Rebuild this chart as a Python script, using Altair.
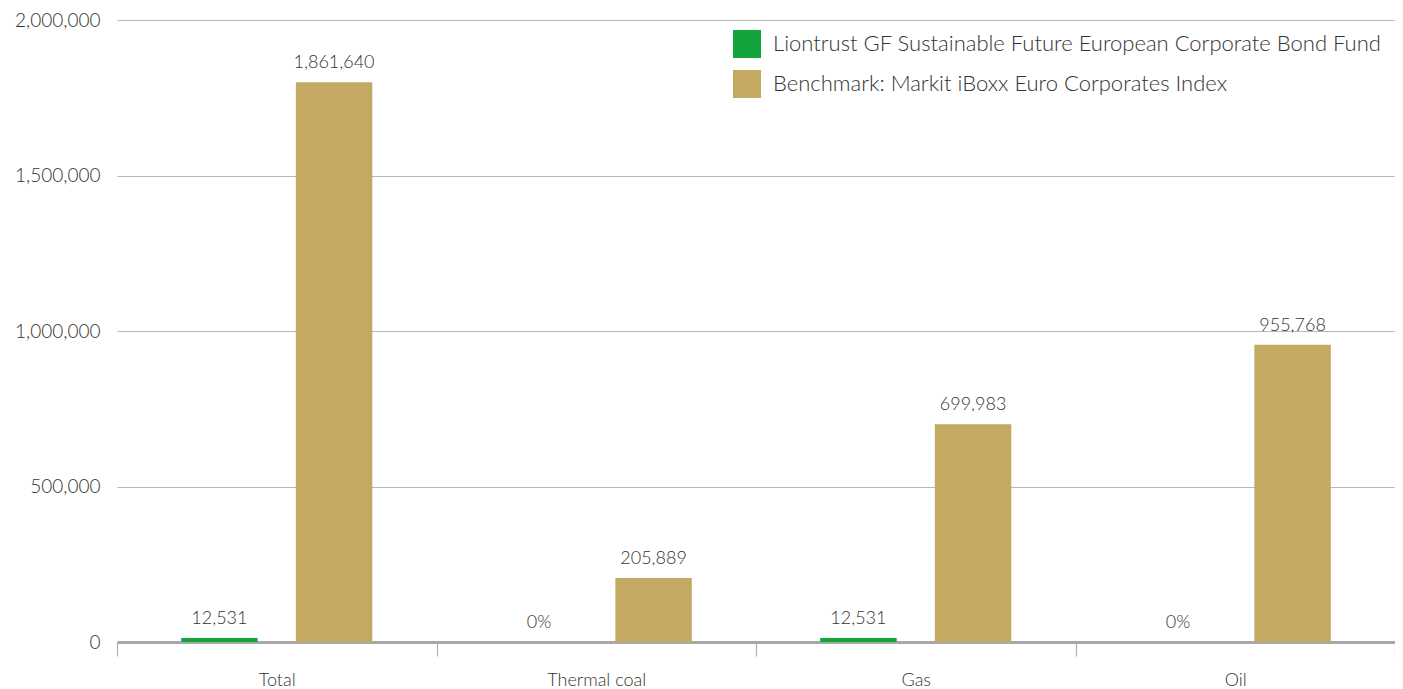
import altair as alt
import pandas as pd

categories = ["Total", "Thermal coal", "Gas", "Oil"]
series_names = [
    "Liontrust GF Sustainable Future European Corporate Bond Fund",
    "Benchmark: Markit iBoxx Euro Corporates Index",
]
fund_values = [12531, 0, 12531, 0]
fund_labels = ["12,531", "0%", "12,531", "0%"]
bench_values = [1800000, 205889, 699983, 955768]
bench_labels = ["1,861,640", "205,889", "699,983", "955,768"]
colors = ["#13a43b", "#c3a962"]
y_ticks = [0, 500000, 1000000, 1500000, 2000000]

rows = []
for c, v, l in zip(categories, fund_values, fund_labels):
    rows.append({"category": c, "series": series_names[0], "value": v, "label": l})
for c, v, l in zip(categories, bench_values, bench_labels):
    rows.append({"category": c, "series": series_names[1], "value": v, "label": l})
df = pd.DataFrame(rows)

FONT = "Lato"
TXT = "#333333"

x = alt.X("category:N", sort=categories, title=None,
          scale=alt.Scale(paddingInner=0, paddingOuter=0),
          axis=alt.Axis(labelAngle=0, labelFontSize=18, labelColor=TXT, labelFont=FONT,
                        labelFontWeight=300, domainColor="#a8a8a8", domainWidth=3,
                        tickColor="#b0b0b0", tickSize=14, tickWidth=1.2, tickBand="extent",
                        labelPadding=15, grid=False))
xo = alt.XOffset("series:N", sort=series_names,
                 scale=alt.Scale(paddingInner=0.333, paddingOuter=0.56))
y = alt.Y("value:Q", title=None,
          scale=alt.Scale(domain=[0, 2000000], nice=False),
          axis=alt.Axis(values=y_ticks, format=",d", labelFontSize=19, labelColor=TXT,
                        labelFont=FONT, labelFontWeight=300, labelPadding=17,
                        domain=False, ticks=False, gridColor="#b8b8b8", gridWidth=1.2))

bars = alt.Chart(df).mark_bar().encode(
    x=x, xOffset=xo, y=y,
    color=alt.Color("series:N", sort=series_names,
                    scale=alt.Scale(domain=series_names, range=colors),
                    legend=alt.Legend(title=None, orient="none", legendX=616, legendY=10,
                                      symbolType="square", symbolSize=784,
                                      symbolStrokeWidth=0, labelFontSize=22,
                                      labelFont=FONT, labelFontWeight=300, labelColor=TXT,
                                      labelOffset=12, rowPadding=12, padding=0,
                                      labelLimit=800)),
)

texts = alt.Chart(df).mark_text(baseline="bottom", dy=-10, fontSize=18, font=FONT,
                                fontWeight=300, color=TXT).encode(
    x=alt.X("category:N", sort=categories), xOffset=alt.XOffset("series:N", sort=series_names),
    y=alt.Y("value:Q"), text="label:N",
)

chart = alt.layer(bars, texts).properties(
    width=1278, height=622,
    background="white",
    autosize=alt.AutoSizeParams(type="none"),
    padding={"left": 109, "top": 12, "right": 0, "bottom": 50},
).configure_view(stroke=None)

chart.save("out.html", embed_options={"renderer": "svg", "actions": False})
